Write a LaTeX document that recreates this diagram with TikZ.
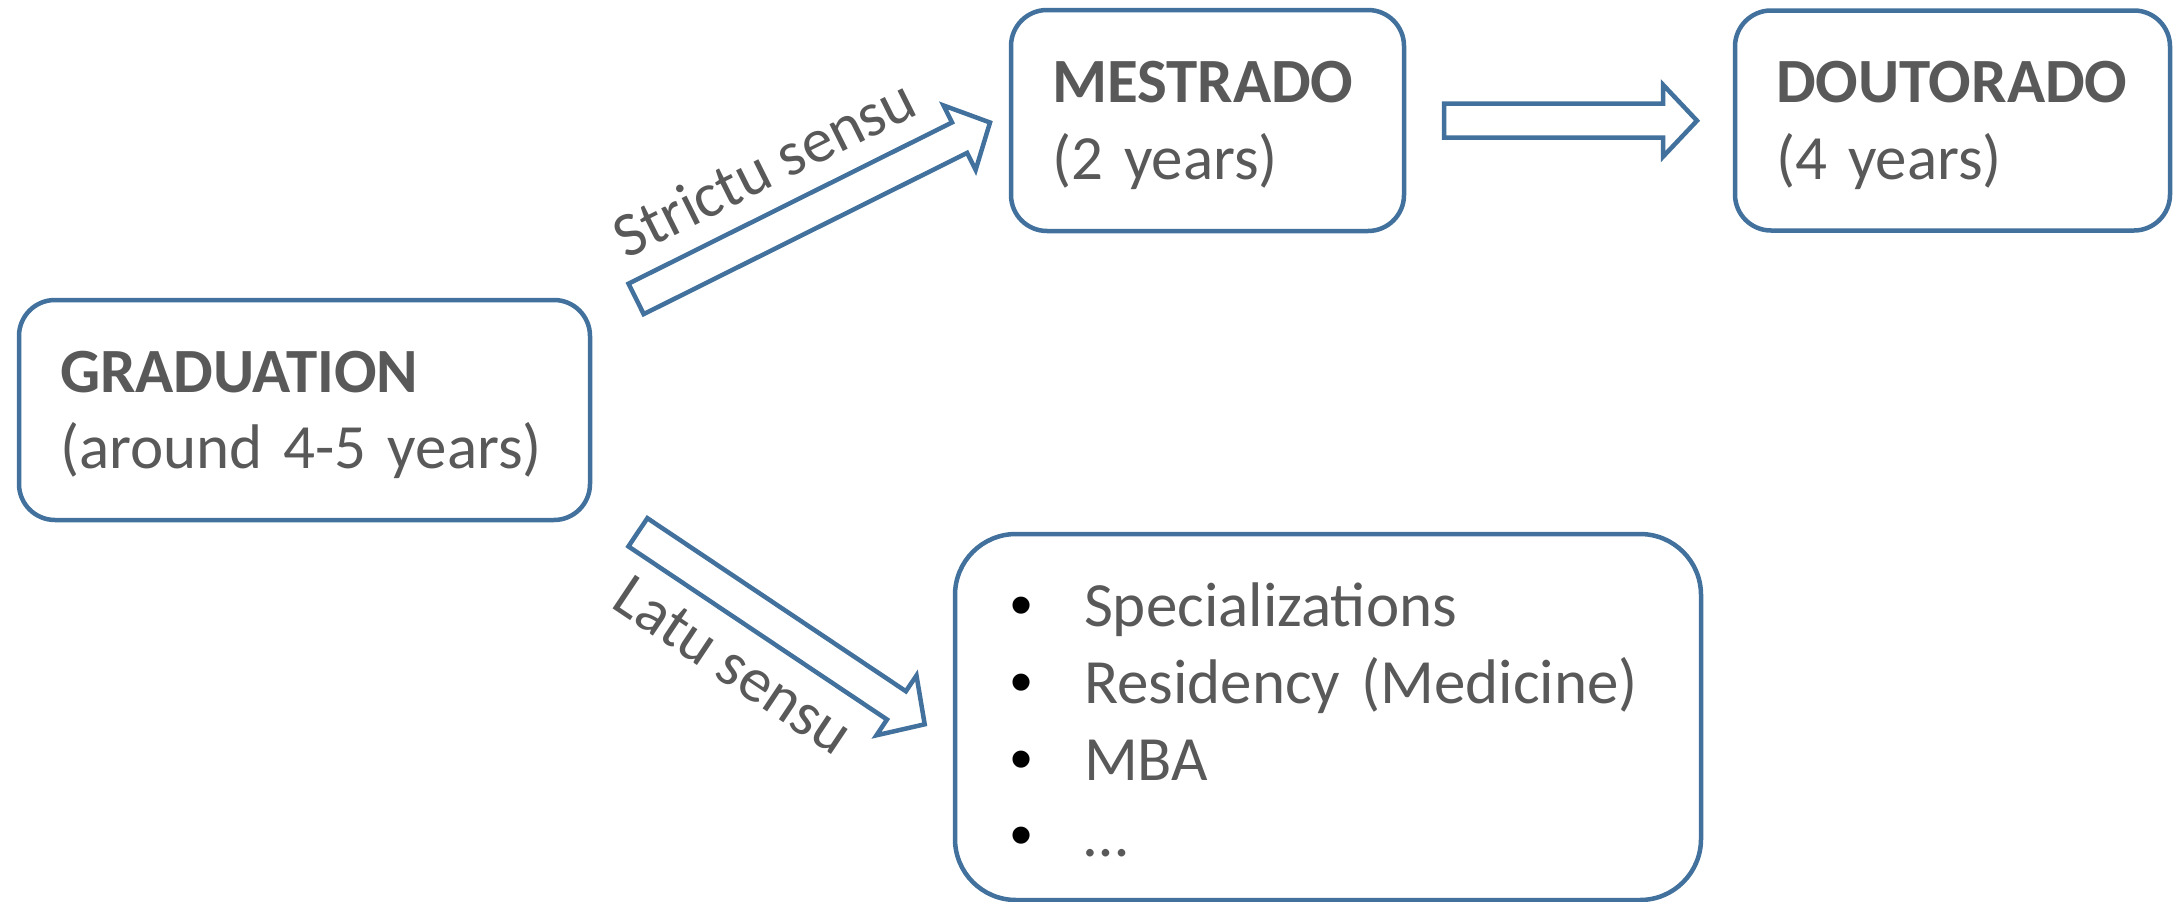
\documentclass[tikz,border=0pt]{standalone}
\usepackage{fontspec}
\setmainfont{Carlito}
\newfontfamily\bulfont{Liberation Sans}
\usetikzlibrary{calc}
\definecolor{bord}{HTML}{41719C}
\definecolor{txtgray}{HTML}{595959}
\newcommand\bigfont{\fontsize{63}{76.7}\selectfont}
\newcommand\lblfont{\fontsize{63}{76}\selectfont}
\newcommand\bul{\makebox[74pt][l]{\color{black}\bulfont •}}
\newcommand\blockarrow[3]{%
  \coordinate (#3) at ($(#2)!34pt!(#1)$);
  \draw[barrow] ($(#1)!17pt!90:(#2)$) -- ($(#3)!17pt!90:(#2)$) -- ($(#3)!36pt!90:(#2)$) -- (#2)
    -- ($(#3)!36pt!-90:(#2)$) -- ($(#3)!17pt!-90:(#2)$) -- ($(#1)!17pt!-90:(#2)$) -- cycle;}
\begin{document}
\begin{tikzpicture}[x=1pt,y=-1pt,
  box/.style={draw=bord, line width=4.5pt, rounded corners=36pt, fill=white,
    text=txtgray, align=left, inner ysep=0pt, inner xsep=41pt, font=\bigfont,
    text height=40pt, text depth=76pt},
  barrow/.style={draw=bord, line width=4.5pt, fill=white, line join=miter},
  lbl/.style={text=txtgray, font=\lblfont, inner sep=0pt, anchor=base}]
\useasboundingbox (0,0) rectangle (2174,902);

\node[box, minimum width=571pt, minimum height=220pt, text width=489pt] (grad) at (304.5,410)
  {\textbf{GRADUATION}\\(around 4-5 years)};
\node[box, minimum width=393pt, minimum height=221pt, text width=311pt] (mest) at (1207.5,120.5)
  {\textbf{MESTRADO}\\(2 years)};
\node[box, minimum width=435pt, minimum height=220pt, text width=353pt] (dout) at (1952.5,120.5)
  {\textbf{DOUTORADO}\\(4 years)};
\node[box, rounded corners=61pt, minimum width=746pt, minimum height=366pt, inner xsep=55pt,
  text width=636pt, text depth=220.6pt] (lato) at (1328,717)
  {\bul Specializations\\\bul Residency (Medicine)\\\bul MBA\\\bul …};

\coordinate (s1) at (636.1,298.9);
\coordinate (s2) at (990,122.5);
\coordinate (h1) at (1444,120.7);
\coordinate (h2) at (1697,120.7);
\coordinate (l1) at (637.9,532.3);
\coordinate (l2) at (924.7,724.3);
\blockarrow{s1}{s2}{s3}
\blockarrow{h1}{h2}{h3}
\blockarrow{l1}{l2}{l3}

\node[lbl, rotate=26.5] (lstr) at (773.5,186.6) {Strictu sensu};
\node[lbl, rotate=-33.8] (llat) at (722.3,681.8) {Latu sensu};
\end{tikzpicture}
\end{document}
